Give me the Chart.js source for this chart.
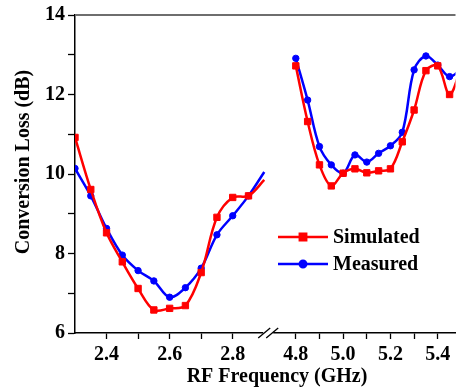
<!DOCTYPE html>
<html><head><meta charset="utf-8">
<script src="https://cdn.jsdelivr.net/npm/chart.js@4.4.0/dist/chart.umd.min.js"></script>
<style>html,body{margin:0;padding:0;background:#fff}canvas{display:block}</style>
</head><body>
<canvas id="c" width="461" height="392"></canvas>
<script>
// ---- data (GHz / dB) ----
const LEFT_FREQ  = [2.30, 2.35, 2.40, 2.45, 2.50, 2.55, 2.60, 2.65, 2.70, 2.75, 2.80, 2.85, 2.90];
const SIM_LEFT   = [10.92, 9.61, 8.52, 7.79, 7.12, 6.58, 6.62, 6.69, 7.52, 8.91, 9.41, 9.45, 9.85];
const MEAS_LEFT  = [10.14, 9.45, 8.63, 7.96, 7.57, 7.31, 6.90, 7.14, 7.63, 8.47, 8.95, 9.45, 10.05];
const RIGHT_FREQ = [4.80, 4.85, 4.90, 4.95, 5.00, 5.05, 5.10, 5.15, 5.20, 5.25, 5.30, 5.35, 5.40, 5.45, 5.50];
const SIM_RIGHT  = [12.72, 11.32, 10.23, 9.70, 10.02, 10.13, 10.03, 10.08, 10.13, 10.81, 11.61, 12.60, 12.72, 12.00, 12.70];
const MEAS_RIGHT = [12.91, 11.86, 10.69, 10.23, 10.02, 10.48, 10.30, 10.52, 10.71, 11.05, 12.62, 12.97, 12.74, 12.45, 12.65];
const X_TICKS       = [2.4, 2.5, 2.6, 2.7, 2.8, 4.8, 4.9, 5.0, 5.1, 5.2, 5.3, 5.4];
const X_TICK_LABELS = ['2.4', '', '2.6', '', '2.8', '4.8', '', '5.0', '', '5.2', '', '5.4'];
const Y_TICK_LABELS = {6: '6', 8: '8', 10: '10', 12: '12', 14: '14'};
const SERIES_NAMES  = ['Simulated', 'Measured'];

// ---- broken x axis: 2.3–2.9 GHz, then 4.7–5.475 GHz at 3/4 scale ----
const LEFT_MIN = 2.3, LEFT_END = 2.9, RIGHT_START = 4.7, RIGHT_MAX = 5.475;
const GAP = 0.025, RIGHT_FACTOR = 0.75;
function mapX(f) { return f <= LEFT_END + 1e-9 ? f : LEFT_END + GAP + (f - RIGHT_START) * RIGHT_FACTOR; }

function buildSeries(lf, lv, rf, rv) {
  const pts = lf.map((f, i) => ({x: mapX(f), y: lv[i], f}));
  pts.push({x: mapX(3.8), y: null, f: 3.8});
  rf.forEach((f, i) => pts.push({x: mapX(f), y: rv[i], f}));
  return pts;
}

const FONT = '"Liberation Serif", "Times New Roman", serif';
const RED = '#ff0000', BLUE = '#0000ff';

const decorations = {
  id: 'decorations',
  afterDraw(chart) {
    const ctx = chart.ctx, a = chart.chartArea, xs = chart.scales.x;
    ctx.save();
    // top frame line
    ctx.strokeStyle = '#6e6e6e'; ctx.lineWidth = 2;
    ctx.beginPath(); ctx.moveTo(a.left, a.top); ctx.lineTo(a.right, a.top); ctx.stroke();
    // axis break marks
    const bx = (xs.getPixelForValue(mapX(LEFT_END)) + xs.getPixelForValue(mapX(RIGHT_START))) / 2, by = a.bottom;
    ctx.fillStyle = '#fff'; ctx.fillRect(bx - 5, by - 2, 10, 4);
    ctx.strokeStyle = '#000'; ctx.lineWidth = 1.3;
    [-4, 4].forEach(d => { ctx.beginPath(); ctx.moveTo(bx + d - 6, by + 5); ctx.lineTo(bx + d + 6, by - 5); ctx.stroke(); });
    // axis titles
    ctx.fillStyle = '#000'; ctx.font = 'bold 20px ' + FONT;
    ctx.textAlign = 'center'; ctx.textBaseline = 'middle';
    ctx.fillText('RF Frequency (GHz)', 277, 377);
    ctx.save(); ctx.translate(24, 162); ctx.rotate(-Math.PI / 2);
    ctx.fillText('Conversion Loss (dB)', 0, 0); ctx.restore();
    // legend
    chart.data.datasets.forEach((ds, i) => {
      const y = 237 + i * 27;
      ctx.strokeStyle = ds.borderColor; ctx.fillStyle = ds.backgroundColor; ctx.lineWidth = 2.5;
      ctx.beginPath(); ctx.moveTo(278, y); ctx.lineTo(328, y); ctx.stroke();
      Chart.helpers.drawPoint(ctx, {pointStyle: ds.pointStyle, radius: ds.legendRadius, borderWidth: 1, rotation: 0}, 303, y);
      ctx.fillStyle = '#000'; ctx.textAlign = 'left'; ctx.textBaseline = 'middle';
      ctx.font = 'bold 20px ' + FONT;
      ctx.fillText(ds.label, 333, y + 1);
    });
    ctx.restore();
  }
};

new Chart(document.getElementById('c'), {
  type: 'line',
  data: {
    datasets: [
      {label: SERIES_NAMES[0], data: buildSeries(LEFT_FREQ, SIM_LEFT, RIGHT_FREQ, SIM_RIGHT),
       borderColor: RED, backgroundColor: RED, borderWidth: 2.5, pointStyle: 'rect', legendRadius: 4.5,
       pointRadius: c => (c.raw && c.raw.f === LEFT_END) ? 0 : 4.5, pointBorderWidth: 1, tension: 0.35},
      {label: SERIES_NAMES[1], data: buildSeries(LEFT_FREQ, MEAS_LEFT, RIGHT_FREQ, MEAS_RIGHT),
       borderColor: BLUE, backgroundColor: BLUE, borderWidth: 2.5, pointStyle: 'circle', legendRadius: 3.2,
       pointRadius: c => (c.raw && c.raw.f === LEFT_END) ? 0 : 3.2, pointBorderWidth: 1, tension: 0.35}
    ]
  },
  options: {
    responsive: false, animation: false, devicePixelRatio: 1,
    layout: {padding: {top: 15, right: 0, left: 0, bottom: 0}},
    plugins: {legend: {display: false}, tooltip: {enabled: false}},
    scales: {
      x: {
        type: 'linear', min: mapX(LEFT_MIN), max: mapX(RIGHT_MAX),
        afterBuildTicks: s => { s.ticks = X_TICKS.map(v => ({value: mapX(v)})); },
        afterFit: s => { s.height = 59; },
        ticks: {autoSkip: false, maxRotation: 0, padding: 4, color: '#000',
                font: {family: FONT, size: 20, weight: 'bold'},
                callback: (v, i) => X_TICK_LABELS[i]},
        grid: {drawOnChartArea: false, tickLength: 6, tickColor: '#000', tickWidth: 1.3},
        border: {color: '#000', width: 1.5}
      },
      y: {
        min: 6, max: 14,
        afterFit: s => { s.width = 75; },
        ticks: {stepSize: 1, padding: 3, color: '#000',
                font: {family: FONT, size: 20, weight: 'bold'},
                callback: v => Y_TICK_LABELS[v] || ''},
        grid: {drawOnChartArea: false, tickLength: 7, tickColor: '#000', tickWidth: 1.3},
        border: {color: '#000', width: 1.5}
      }
    }
  },
  plugins: [decorations]
});
</script>
</body></html>
